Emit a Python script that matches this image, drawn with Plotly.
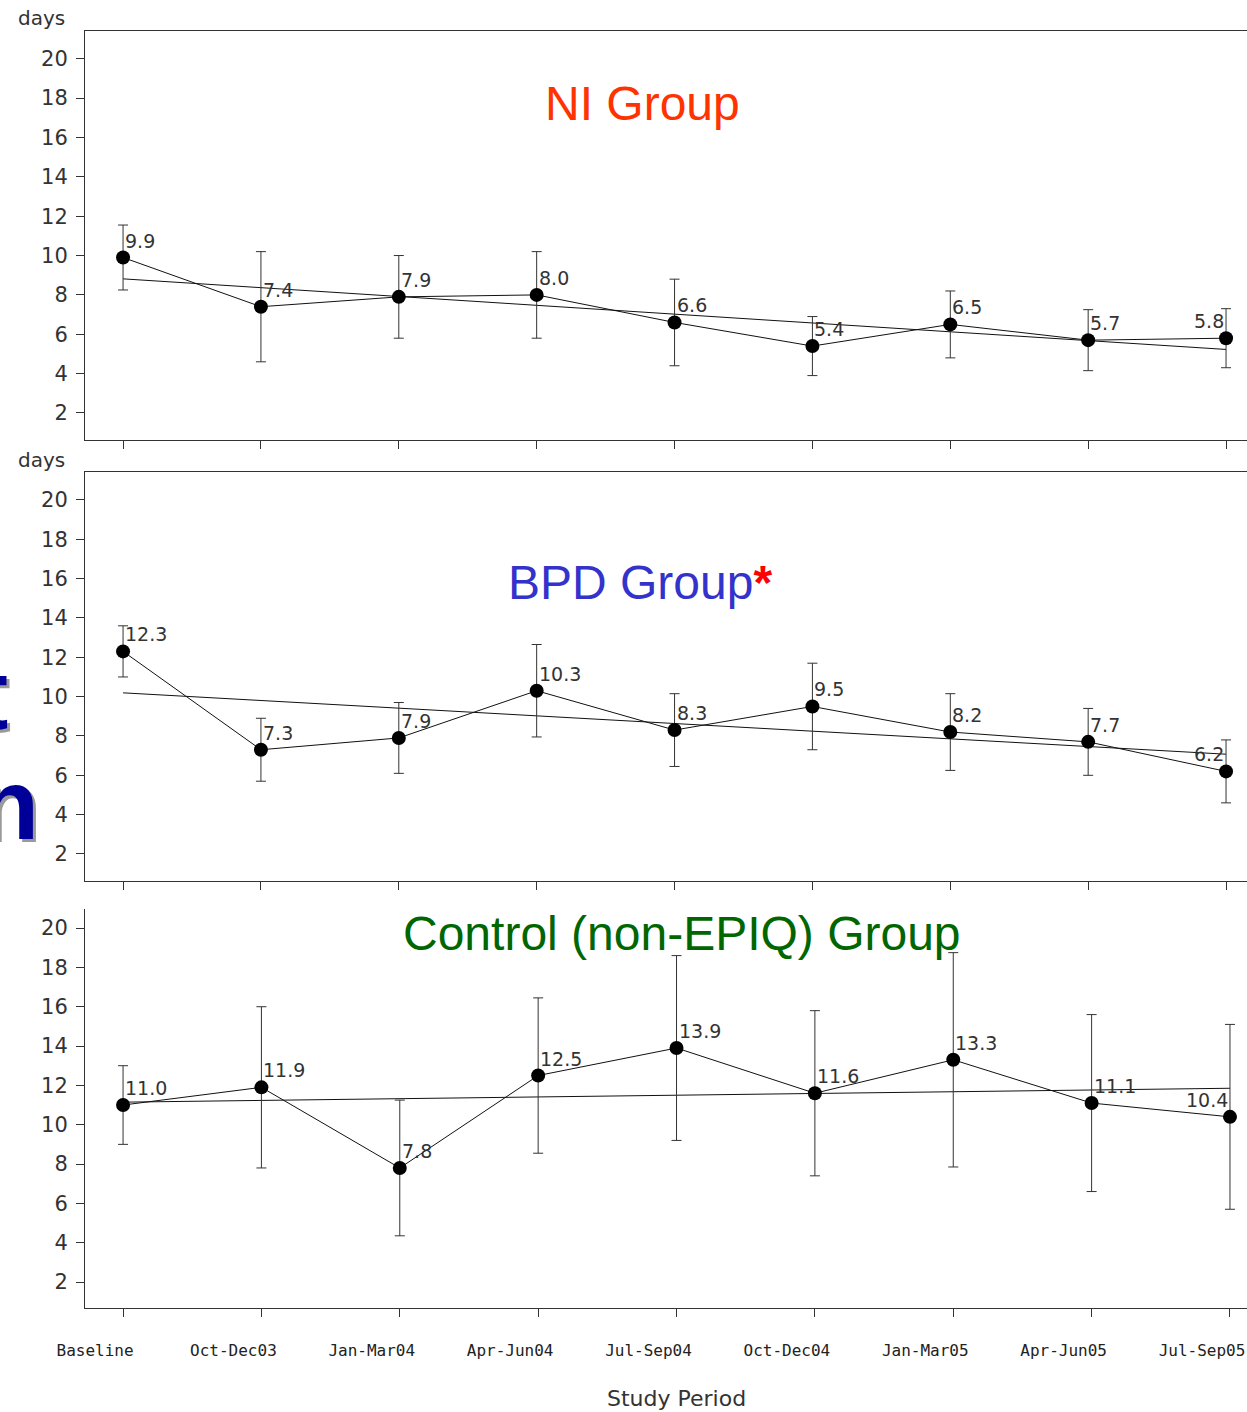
import numpy as np
import plotly.graph_objects as go

# ---------------- data ----------------
periods = ["Baseline", "Oct-Dec03", "Jan-Mar04", "Apr-Jun04", "Jul-Sep04",
           "Oct-Dec04", "Jan-Mar05", "Apr-Jun05", "Jul-Sep05"]

ni_values = [9.9, 7.4, 7.9, 8.0, 6.6, 5.4, 6.5, 5.7, 5.8]
ni_err = [1.65, 2.8, 2.1, 2.2, 2.2, 1.5, 1.7, 1.55, 1.5]

bpd_values = [12.3, 7.3, 7.9, 10.3, 8.3, 9.5, 8.2, 7.7, 6.2]
bpd_err = [1.3, 1.6, 1.8, 2.35, 1.85, 2.2, 1.95, 1.7, 1.6]

ctrl_values = [11.0, 11.9, 7.8, 12.5, 13.9, 11.6, 13.3, 11.1, 10.4]
ctrl_err = [2.0, 4.1, 3.45, 3.95, 4.7, 4.2, 5.45, 4.5, 4.7]

y_ticks = [2, 4, 6, 8, 10, 12, 14, 16, 18, 20]

# ---------------- layout helpers ----------------
W, H = 1247, 1412


def py(p):
    return 1 - p / H


panels = [
    dict(values=ni_values, err=ni_err, ax="", top=31, bottom=440,
         yrange=[0.627, 21.41], xrange=[-0.276, 8.152], mirror=True),
    dict(values=bpd_values, err=bpd_err, ax="2", top=472, bottom=881,
         yrange=[0.627, 21.42], xrange=[-0.276, 8.152], mirror=True),
    dict(values=ctrl_values, err=ctrl_err, ax="3", top=909, bottom=1308,
         yrange=[0.678, 20.97], xrange=[-0.275, 8.123], mirror=False),
]

fig = go.Figure()
annotations = []
xs = list(range(len(periods)))
label_font = dict(family="DejaVu Sans", size=19, color="#333333")
axis_col = "#333333"

for k, p in enumerate(panels):
    xa = "x" + p["ax"]
    ya = "y" + p["ax"]
    vals = p["values"]
    # trend line (least squares fit)
    slope, inter = np.polyfit(xs, vals, 1)
    trend = [inter + slope * x for x in (xs[0], xs[-1])]
    fig.add_trace(go.Scatter(
        x=[xs[0], xs[-1]], y=trend, mode="lines",
        line=dict(color="#111111", width=1), xaxis=xa, yaxis=ya,
        showlegend=False, hoverinfo="skip"))
    # series with error bars
    fig.add_trace(go.Scatter(
        x=xs, y=vals, mode="lines+markers",
        line=dict(color="#111111", width=1),
        marker=dict(color="black", size=14),
        error_y=dict(type="data", array=p["err"], visible=True,
                     color="#333333", thickness=1, width=5),
        xaxis=xa, yaxis=ya, showlegend=False))
    # value labels
    for i, v in enumerate(vals):
        last = i == len(vals) - 1
        annotations.append(dict(
            x=i, y=v, xref=xa, yref=ya, text=f"{v:.1f}", showarrow=False,
            xanchor="right" if last else "left", yanchor="bottom",
            yshift=4, xshift=0, font=label_font))

    dom_y = [py(p["bottom"]), py(p["top"])]
    xaxis = dict(domain=[85 / W, 1], range=p["xrange"], tickvals=xs,
                 ticks="outside", ticklen=8, tickcolor=axis_col, tickwidth=1,
                 showline=True, linecolor=axis_col, linewidth=1,
                 mirror=p["mirror"], showgrid=False, zeroline=False,
                 anchor=ya, automargin=False)
    if k == 2:
        xaxis.update(ticktext=periods, showticklabels=True,
                     tickfont=dict(family="DejaVu Sans Mono", size=16,
                                   color="#222222"),
                     ticklabelstandoff=20, ticklabelshift=-28,
                     ticklabeloverflow="allow")
    else:
        xaxis.update(showticklabels=False)
    yaxis = dict(domain=dom_y, range=p["yrange"], tickvals=y_ticks,
                 ticks="outside", ticklen=8, tickcolor=axis_col, tickwidth=1,
                 showline=True, linecolor=axis_col, linewidth=1,
                 showgrid=False, zeroline=False, anchor=xa, automargin=False,
                 tickfont=dict(family="DejaVu Sans", size=21, color="#333333"),
                 ticklabelstandoff=4)
    fig.update_layout(**{"xaxis" + p["ax"]: xaxis, "yaxis" + p["ax"]: yaxis})

# "days" labels
for ypix in (18, 460):
    annotations.append(dict(x=41 / W, y=py(ypix), xref="paper", yref="paper",
                            text="days", showarrow=False, xanchor="center",
                            yanchor="middle",
                            font=dict(family="DejaVu Sans", size=20,
                                      color="#333333")))

# panel titles
title_font = "Liberation Sans"
annotations.append(dict(x=643 / W, y=py(104), xref="paper", yref="paper",
                        text="NI Group", showarrow=False, xanchor="center",
                        yanchor="middle",
                        font=dict(family=title_font, size=48, color="#FF3300")))
annotations.append(dict(x=640 / W, y=py(583), xref="paper", yref="paper",
                        text="BPD Group<span style='color:#FF0000'><b>*</b></span>",
                        showarrow=False, xanchor="center", yanchor="middle",
                        font=dict(family=title_font, size=48, color="#3333CC")))
annotations.append(dict(x=682 / W, y=py(933), xref="paper", yref="paper",
                        text="Control (non-EPIQ) Group", showarrow=False,
                        xanchor="center", yanchor="middle",
                        font=dict(family=title_font, size=48, color="#006600")))

# x-axis title
annotations.append(dict(x=676 / W, y=py(1398), xref="paper", yref="paper",
                        text="Study Period", showarrow=False, xanchor="center",
                        yanchor="middle",
                        font=dict(family="DejaVu Sans", size=22, color="#333333")))

# partially visible slide text at the left edge
for txt, xr, yc in (("t", 10, 694), ("n", 41, 804)):
    annotations.append(dict(x=xr / W, y=py(yc), xref="paper", yref="paper",
                            text=f"<b>{txt}</b>", showarrow=False,
                            xanchor="right", yanchor="middle", xshift=3,
                            yshift=-3,
                            font=dict(family="Liberation Sans", size=100,
                                      color="#9a9a9a")))
    annotations.append(dict(x=xr / W, y=py(yc), xref="paper", yref="paper",
                            text=f"<b>{txt}</b>", showarrow=False,
                            xanchor="right", yanchor="middle",
                            font=dict(family="Liberation Sans", size=100,
                                      color="#000099")))

fig.update_layout(width=W, height=H, margin=dict(l=0, r=0, t=0, b=0),
                  paper_bgcolor="white", plot_bgcolor="white",
                  annotations=annotations, showlegend=False)

fig.write_html("out.html", config={"displayModeBar": False},
               post_script="document.body.style.margin='0';"
                           "document.body.style.overflow='hidden';")
